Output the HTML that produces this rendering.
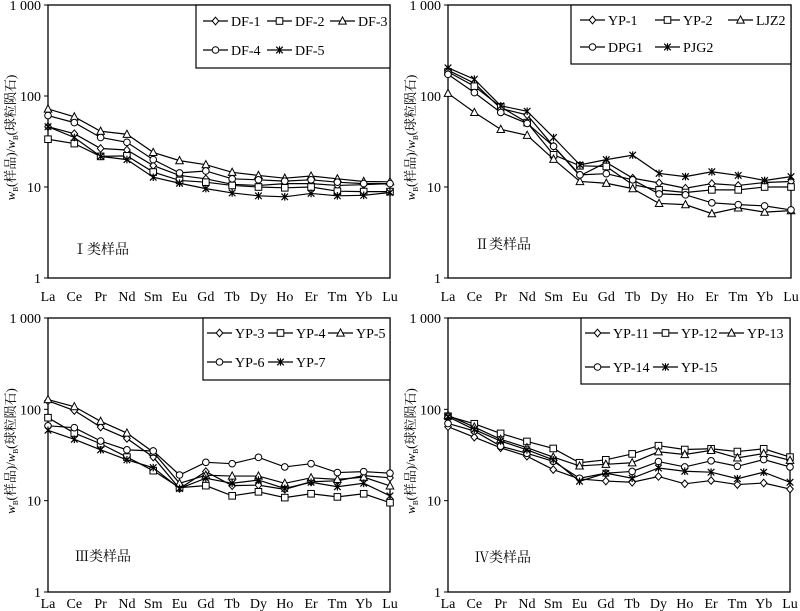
<!DOCTYPE html>
<html><head><meta charset="utf-8">
<style>
html,body{margin:0;padding:0;background:#fff;}
svg{display:block;font-family:"Liberation Serif","Noto Serif CJK SC",serif;}
</style></head>
<body>
<svg id="chart" width="800" height="611" viewBox="0 0 800 611" xmlns="http://www.w3.org/2000/svg"></svg>
<script>
const categories = ["La","Ce","Pr","Nd","Sm","Eu","Gd","Tb","Dy","Ho","Er","Tm","Yb","Lu"];
const yTickValues = [1,10,100,1000];
const yTickLabels = ["1","10","100","1 000"];
const panelLabels = ["Ⅰ类样品","Ⅱ类样品","Ⅲ类样品","Ⅳ类样品"];

// Panel I
const p1Names = ["DF-1","DF-2","DF-3","DF-4","DF-5"];
const p1_DF1 = [46,38.5,26.5,25.5,17.2,13.4,12.3,10.7,10.4,10.9,10.9,10.4,10.6,10.9];
const p1_DF2 = [33.5,30,21.7,22,14.6,11.8,11.3,10.4,10,9.8,10,9,8.9,8.9];
const p1_DF3 = [72,59,41,38,24,19.5,17.6,14.5,13.4,12.5,13.2,12.3,11.5,11.4];
const p1_DF4 = [61,51,35,31,20,14.3,15,12.3,12,11.6,12,11.3,10.9,10.9];
const p1_DF5 = [46,35,21.7,20,12.8,11,9.6,8.6,8,7.8,8.5,8,8.1,8.7];
// Panel II
const p2Names = ["YP-1","YP-2","LJZ2","DPG1","PJG2"];
const p2_YP1 = [192,138,73,62,28,13.3,18.6,12.5,11.1,9.7,10.9,10.4,11.2,11.5];
const p2_YP2 = [184,128,76,51,22.6,17.1,16.8,10.6,9.3,8.7,9.3,9.3,10,10];
const p2_LJZ2 = [107,66,43,37,20.2,11.5,11,9.6,6.6,6.4,5.1,5.9,5.3,5.5];
const p2_DPG1 = [173,109,66,50,28,13.6,14,12,8.4,8.2,6.7,6.4,6.2,5.6];
const p2_PJG2 = [204,153,78,68,35,17.5,20,22.4,14.1,13,14.7,13.4,11.8,13];
// Panel III
const p3Names = ["YP-3","YP-4","YP-5","YP-6","YP-7"];
const p3_YP3 = [124,97,64,48,30,13.6,20.8,14.6,14.8,13.3,16.1,16.5,18.8,17.8];
const p3_YP4 = [81,55,42,30,21.3,13.9,14.6,11.3,12.5,10.8,11.9,11,11.9,9.5];
const p3_YP5 = [128,107,74,55,34,15.5,19,18.6,18.6,15.5,17.8,17.1,18.1,14.5];
const p3_YP6 = [66,63,45,36,35,19.1,26.3,25.4,29.8,23.4,25.4,20.3,20.8,20];
const p3_YP7 = [59,47,36,28,23,13.6,17.6,15.5,16.8,13.6,15.9,14.2,15.5,11.3];
// Panel IV
const p4Names = ["YP-11","YP-12","YP-13","YP-14","YP-15"];
const p4_YP11 = [64.5,49.6,37.9,30.7,21.9,17.3,16.4,15.9,18.4,15.3,16.6,15,15.6,13.4];
const p4_YP12 = [84,69.5,54.5,44.5,37.3,26,28,32.5,40,36.3,37,34.5,37,30];
const p4_YP13 = [86,64,47,38,30,24,25,26,34.3,32,35.5,29.4,32.8,27.7];
const p4_YP14 = [70,58,39.5,33,27,17.6,20,20.9,26.8,23.4,27.3,23.8,28.2,23.4];
const p4_YP15 = [83,60,45,36,28,16.3,20,17.6,22.8,21,20.5,17.4,20.5,15.9];

const markers = ["diamond","square","triangle","circle","star"];
const NS = "http://www.w3.org/2000/svg";
const svg = document.getElementById("chart");
function mk(tag, attrs, parent){const e=document.createElementNS(NS,tag);for(const k in attrs)e.setAttribute(k,attrs[k]);(parent||svg).appendChild(e);return e;}

function drawMarker(g,type,x,y){
  const s=3.3; let m;
  if(type==="diamond") m=mk("polygon",{points:`${x},${y-s-0.5} ${x+s},${y} ${x},${y+s+0.5} ${x-s},${y}`,fill:"#fff",stroke:"#000","stroke-width":1},g);
  else if(type==="square") m=mk("rect",{x:x-s,y:y-s,width:2*s,height:2*s,fill:"#fff",stroke:"#000","stroke-width":1},g);
  else if(type==="triangle") m=mk("polygon",{points:`${x},${y-s-0.8} ${x+s+0.5},${y+s-0.2} ${x-s-0.5},${y+s-0.2}`,fill:"#fff",stroke:"#000","stroke-width":1},g);
  else if(type==="circle") m=mk("circle",{cx:x,cy:y,r:s,fill:"#fff",stroke:"#000","stroke-width":1},g);
  else { m=mk("path",{d:`M${x-s} ${y-s}L${x+s} ${y+s}M${x-s} ${y+s}L${x+s} ${y-s}M${x} ${y-s-0.5}L${x} ${y+s+0.5}`,stroke:"#000","stroke-width":1.2,fill:"none"},g); }
  return m;
}

const panels = [
  {L:48,R:390,T:5,B:278,xo:23,names:p1Names,series:[p1_DF1,p1_DF2,p1_DF3,p1_DF4,p1_DF5],
   leg:{x:196,y:5,w:194,h:63,rows:[21,50],cols:[203,267,330]},lab:{x:73,y:254}},
  {L:448,R:791,T:5,B:278,xo:23,names:p2Names,series:[p2_YP1,p2_YP2,p2_LJZ2,p2_DPG1,p2_PJG2],
   leg:{x:571,y:5,w:220,h:59,rows:[20,47],cols:[580,655,728]},lab:{x:475,y:249}},
  {L:48,R:390,T:318,B:592,xo:16,names:p3Names,series:[p3_YP3,p3_YP4,p3_YP5,p3_YP6,p3_YP7],
   leg:{x:203,y:318,w:187,h:62,rows:[333,362],cols:[207,268,328]},lab:{x:75,y:561}},
  {L:448,R:790,T:318,B:592,xo:16,names:p4Names,series:[p4_YP11,p4_YP12,p4_YP13,p4_YP14,p4_YP15],
   leg:{x:581,y:318,w:209,h:66,rows:[333,367],cols:[585,653,719]},lab:{x:475,y:562}}
];

panels.forEach((p,pi)=>{
  const g=mk("g",{});
  
  
  const xS=i=>p.L+i*(p.R-p.L)/(categories.length-1);
  const yS=v=>p.B-(Math.log10(v))*(p.B-p.T)/3;
  const frame=mk("rect",{x:p.L,y:p.T,width:p.R-p.L,height:p.B-p.T,fill:"none",stroke:"#000","stroke-width":1.3},g);
  
  
  yTickValues.forEach((v,i)=>{
    const y=yS(v);
    mk("line",{x1:p.L-4,x2:p.L,y1:y,y2:y,stroke:"#000","stroke-width":1},g);
    const t=mk("text",{x:p.L-7,y:y+5,"text-anchor":"end","font-size":14},g);
    t.textContent=yTickLabels[i];
    
    
  });
  categories.forEach((c,i)=>{
    const t=mk("text",{x:xS(i),y:p.B+p.xo,"text-anchor":"middle","font-size":14},g);
    t.textContent=c;
    
    
  });
  const cy=(p.T+p.B)/2-4, cx=p.L-33;
  const yt=mk("text",{x:cx,y:cy,"text-anchor":"middle","font-size":13,transform:`rotate(-90 ${cx} ${cy})`},g);
  
  
  yt.innerHTML='<tspan font-style="italic">w</tspan><tspan font-size="7" dy="3">B</tspan><tspan dy="-3">(样品)/</tspan><tspan font-style="italic">w</tspan><tspan font-size="7" dy="3">B</tspan><tspan dy="-3">(球粒陨石)</tspan>';
  p.series.forEach((vals,si)=>{
    const sg=mk("g",{},g);
    
    
    const pts=vals.map((v,i)=>xS(i)+","+yS(v)).join(" ");
    mk("polyline",{points:pts,fill:"none",stroke:"#000","stroke-width":1.2},sg);
    vals.forEach((v,i)=>{
      const m=drawMarker(sg,markers[si],xS(i),yS(v));
      
      
    });
  });
  const lg=mk("g",{},g);
  
  
  mk("rect",{x:p.leg.x,y:p.leg.y,width:p.leg.w,height:p.leg.h,fill:"#fff",stroke:"#000","stroke-width":1.2},lg);
  p.names.forEach((n,si)=>{
    const row=si<3?0:1, col=si<3?si:si-3;
    const x0=p.leg.cols[col], y0=p.leg.rows[row];
    const eg=mk("g",{},lg);
    
    
    mk("line",{x1:x0,x2:x0+25,y1:y0,y2:y0,stroke:"#000","stroke-width":1.2},eg);
    drawMarker(eg,markers[si],x0+12.5,y0);
    const t=mk("text",{x:x0+28,y:y0+5,"font-size":14},eg);
    t.textContent=n;
  });
  const lab=mk("text",{x:p.lab.x,y:p.lab.y,"font-size":14},g);
  lab.textContent=panelLabels[pi];
  
  
});
</script>
</body></html>
